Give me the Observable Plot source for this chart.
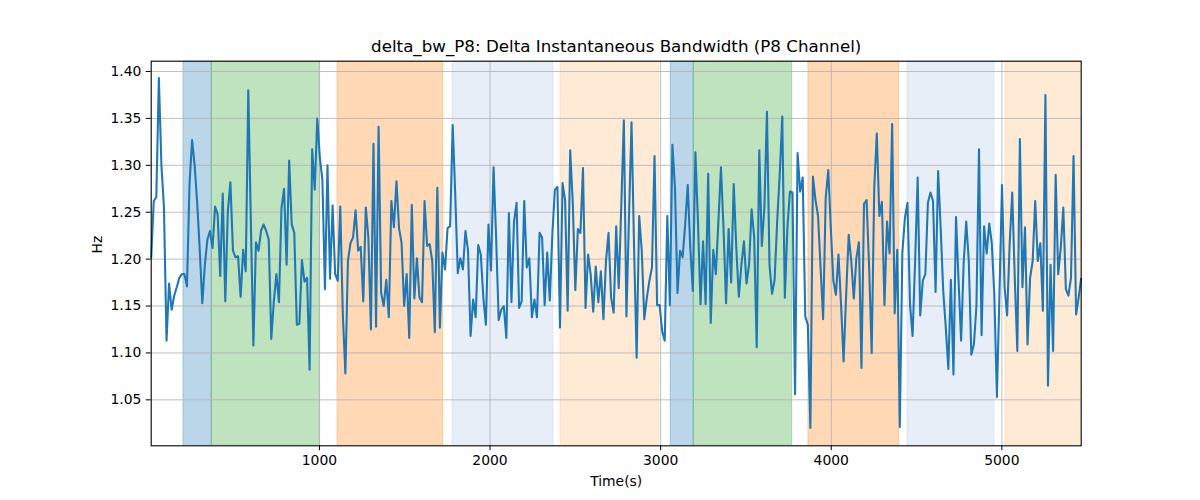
<!DOCTYPE html>
<html><head><meta charset="utf-8">
<script src="https://cdn.jsdelivr.net/npm/d3@7"></script>
<script src="https://cdn.jsdelivr.net/npm/@observablehq/plot@0.6"></script>
<style>body{margin:0;background:#fff;}</style>
</head><body><div id="chart"></div>
<script>
// Delta bandwidth values (Hz) in time order
const values = [
1.201,1.262,1.266,1.393,1.30,1.255,1.113,1.174,1.146,1.161,1.170,1.180,1.184,1.184,1.171,1.28,1.327,1.30,1.26,1.21,1.153,1.194,1.221,1.230,1.212,1.256,1.248,1.182,1.270,1.155,1.251,1.282,1.209,1.202,1.203,1.160,1.210,1.187,1.380,1.24,1.108,1.218,1.209,1.230,1.237,1.230,1.221,
1.115,1.155,1.184,1.154,1.255,1.275,1.194,1.305,1.237,1.228,1.130,1.131,1.199,1.176,1.180,1.082,1.317,1.274,1.350,1.308,1.285,1.168,1.300,1.179,1.257,1.184,1.177,1.256,1.141,1.078,1.198,1.217,1.223,1.252,1.209,1.213,1.155,1.255,1.223,1.125,1.323,1.128,1.341,1.164,
1.150,
1.178,1.138,1.262,1.234,1.283,1.233,1.217,1.150,1.184,1.116,1.258,1.158,1.201,1.159,1.154,1.262,1.214,1.216,1.198,1.122,1.276,1.127,1.207,1.189,1.233,1.235,1.343,1.269,1.185,1.201,1.189,1.230,1.209,1.118,1.157,1.138,1.215,1.205,1.159,1.130,1.237,1.188,1.298,1.223,
1.135,
1.146,1.150,1.116,1.249,1.154,1.240,1.260,1.148,1.155,1.262,1.191,1.201,1.138,1.157,1.138,1.228,1.223,1.151,1.207,1.156,1.226,1.274,1.277,1.127,1.281,1.263,1.145,1.316,1.260,1.167,1.232,1.228,1.297,1.148,1.205,1.184,1.144,1.192,1.154,1.187,1.136,1.198,1.228,1.159,1.143,
1.235,
1.169,1.258,1.348,1.139,1.244,1.346,1.212,1.095,1.246,1.209,1.136,1.159,1.177,1.191,1.310,1.151,1.151,1.123,1.113,1.246,1.151,1.322,1.276,1.164,1.209,1.202,1.237,1.279,1.212,1.166,1.314,1.240,1.152,1.219,1.152,1.291,1.132,1.210,1.184,1.240,1.298,1.233,1.153,1.232,1.175,
1.280,1.212,1.160,1.194,1.219,1.174,1.194,1.253,1.224,1.106,1.316,1.214,1.255,1.357,1.194,1.163,1.178,1.240,1.290,1.352,1.159,1.233,1.272,1.271,1.056,1.313,1.272,1.287,1.139,1.130,1.020,1.288,1.263,1.246,1.191,1.136,1.265,1.295,1.233,1.177,1.162,1.205,1.152,1.091,1.162,
1.226,1.198,1.158,1.201,1.218,1.084,1.259,1.263,1.191,1.100,1.276,1.334,1.246,1.261,1.151,1.240,1.206,1.344,1.142,1.210,1.021,1.207,1.244,1.260,1.152,1.118,1.198,1.287,1.140,1.177,1.184,1.260,1.271,1.262,1.165,1.294,1.233,1.166,1.127,1.083,1.178,1.077,1.245,1.177,1.113,
1.196,
1.240,1.198,1.098,1.109,1.150,1.317,1.119,1.235,1.206,1.238,1.217,1.162,1.053,1.162,1.279,1.170,1.140,1.216,1.271,1.180,1.102,1.328,1.170,1.234,1.109,1.180,1.198,1.262,1.198,1.217,1.145,1.375,1.065,1.194,1.102,1.290,1.184,1.212,1.255,1.168,1.161,1.180,1.310,1.141,1.159,1.180
];
// Regular sampling between first and last timestamp (s)
const tFirst = 14, tLast = 5465;
const times = values.map((_, i) => tFirst + i * (tLast - tFirst) / (values.length - 1));

// Shaded segments
const spanStart = [203, 369, 1106, 1780, 2413, 3059, 3194, 3866, 4447, 5021];
const spanEnd   = [369, 1004, 1725, 2372, 2991, 3194, 3771, 4398, 4957, 5465];
const spanColor = ["#1f77b4","#2ca02c","#ff7f0e","#aec7e8","#ffbb78","#1f77b4","#2ca02c","#ff7f0e","#aec7e8","#ffbb78"];

const xTicks = [1000, 2000, 3000, 4000, 5000];
const yTicks = [1.05, 1.10, 1.15, 1.20, 1.25, 1.30, 1.35, 1.40];
const yDomain = [1.001, 1.411];

const titleText = "delta_bw_P8: Delta Instantaneous Bandwidth (P8 Channel)";
const xLabel = "Time(s)";
const yLabel = "Hz";

const series = values.map((v, i) => ({t: times[i], v}));
const spans = spanStart.map((s, i) => ({x1: s, x2: spanEnd[i], c: spanColor[i]}));

const chart = Plot.plot({
  width: 1200,
  height: 500,
  marginLeft: 150.7,
  marginRight: 119.3,
  marginTop: 60.7,
  marginBottom: 54.7,
  style: {fontFamily: "DejaVu Sans", fontSize: "13.9px", color: "black", background: "white"},
  x: {domain: d3.extent(times), label: null},
  y: {domain: yDomain, label: null},
  marks: [
    Plot.rect(spans, {x1: "x1", x2: "x2", fill: "c", fillOpacity: 0.3, stroke: "c", strokeOpacity: 0.3, strokeWidth: 1, clip: true}),
    Plot.gridX(xTicks, {stroke: "#b0b0b0", strokeOpacity: 1, strokeWidth: 0.8}),
    Plot.gridY(yTicks, {stroke: "#b0b0b0", strokeOpacity: 1, strokeWidth: 0.8}),
    Plot.line(series, {x: "t", y: "v", stroke: "#1f77b4", strokeWidth: 2.08, strokeLinejoin: "round", strokeLinecap: "butt"}),
    Plot.axisX({ticks: xTicks, tickSize: 4.9, tickPadding: 4.9, tickFormat: d3.format("d"), label: null, stroke: "black"}),
    Plot.axisY({ticks: yTicks, tickSize: 4.9, tickPadding: 4.9, tickFormat: d3.format(".2f"), label: null, stroke: "black"}),
    Plot.frame({stroke: "black", strokeWidth: 1.1}),
    Plot.text([titleText], {frameAnchor: "top", dy: -15, lineAnchor: "middle", fontSize: 16.7, fill: "black"}),
    Plot.text([xLabel], {frameAnchor: "bottom", dy: 36, lineAnchor: "middle", fontSize: 13.9, fill: "black"}),
    Plot.text([yLabel], {frameAnchor: "left", dx: -54, rotate: -90, lineAnchor: "middle", fontSize: 13.9, fill: "black"})
  ]
});
document.getElementById("chart").appendChild(chart);
</script>
</body></html>
